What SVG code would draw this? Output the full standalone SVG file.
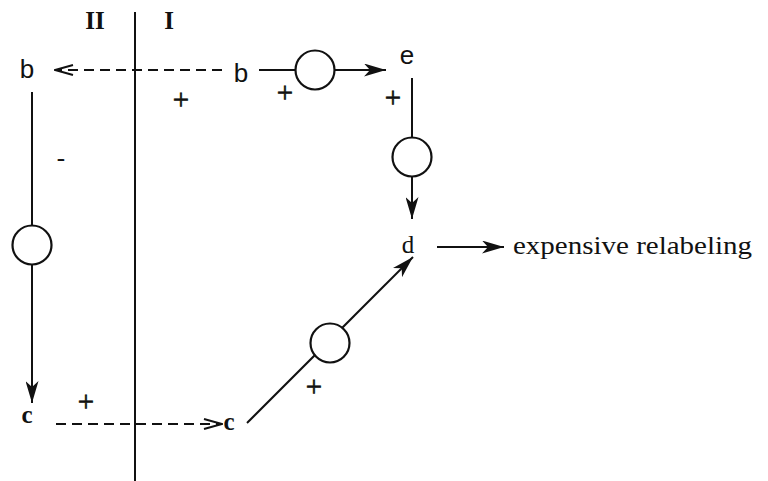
<svg xmlns="http://www.w3.org/2000/svg" width="768" height="481" viewBox="0 0 768 481">
<style>
.ln{stroke:#111;stroke-width:2;fill:none}
.dl{stroke:#111;stroke-width:2;fill:none;stroke-dasharray:10,6}
.cl{stroke:#111;stroke-width:2.2;fill:#fff}
.t{font-family:"Liberation Serif",serif;font-size:25px;fill:#111}
.s{font-family:"Liberation Sans",sans-serif;font-size:26px;fill:#111}
.p{font-family:"Liberation Serif",serif;font-size:29px;fill:#111;stroke:#111;stroke-width:0.6}
</style>
<defs>
<marker id="ah" viewBox="0 0 22 13" refX="22" refY="6.5" markerWidth="22" markerHeight="13" markerUnits="userSpaceOnUse" orient="auto">
<path d="M0,0 L22,6.5 L0,13 L6,6.5 Z" fill="#111"/>
</marker>
<marker id="oh" viewBox="0 0 20 12" refX="19" refY="6" markerWidth="20" markerHeight="12" markerUnits="userSpaceOnUse" orient="auto">
<path d="M1,1 L19,6 L1,11" fill="none" stroke="#111" stroke-width="2"/>
</marker>
</defs>
<rect width="768" height="481" fill="#fff"/>
<g id="divider">
<line class="ln" x1="135" y1="12" x2="135" y2="481"/>
<text class="t" x="95" y="29" font-size="26" font-weight="bold" text-anchor="middle">II</text>
<text class="t" x="169" y="29" font-size="26" font-weight="bold" text-anchor="middle">I</text>
</g>
<g id="connectors">
<line class="dl" x1="222" y1="70" x2="55" y2="70" marker-end="url(#oh)"/>
<line class="ln" x1="259" y1="70" x2="386" y2="70" marker-end="url(#ah)"/>
<line class="ln" x1="412" y1="78" x2="412" y2="219" marker-end="url(#ah)"/>
<line class="ln" x1="32" y1="92" x2="32" y2="403" marker-end="url(#ah)"/>
<line class="dl" x1="56" y1="424" x2="222" y2="424" marker-end="url(#oh)"/>
<line class="ln" x1="247" y1="423" x2="413" y2="257" marker-end="url(#ah)"/>
<line class="ln" x1="437" y1="247" x2="504" y2="247" marker-end="url(#ah)"/>
</g>
<g id="circle-top"><circle class="cl" cx="315" cy="70" r="19.5"/></g>
<g id="circle-right"><circle class="cl" cx="412" cy="157" r="19.5"/></g>
<g id="circle-left"><circle class="cl" cx="32" cy="245" r="19.5"/></g>
<g id="circle-diag"><circle class="cl" cx="330" cy="343" r="19.5"/></g>
<g id="node-b-II"><text class="s" x="27" y="78" text-anchor="middle">b</text></g>
<g id="node-b-I"><text class="s" x="241" y="82" text-anchor="middle">b</text></g>
<g id="node-e"><text class="s" x="407" y="64" text-anchor="middle">e</text></g>
<g id="node-d"><text class="t" x="408" y="253" font-size="26" text-anchor="middle">d</text></g>
<g id="node-c-II"><text class="t" x="27" y="423" font-size="28" text-anchor="middle" font-weight="bold">c</text></g>
<g id="node-c-I"><text class="t" x="229" y="430" font-size="28" text-anchor="middle" font-weight="bold">c</text></g>
<g id="node-expensive"><text class="t" x="513" y="254" font-size="28" textLength="239" lengthAdjust="spacingAndGlyphs">expensive relabeling</text></g>
<g id="signs">
<text class="p" x="181" y="109" text-anchor="middle">+</text>
<text class="p" x="285" y="102" text-anchor="middle">+</text>
<text class="p" x="393" y="107" text-anchor="middle">+</text>
<text class="t" x="61" y="166" font-size="24" text-anchor="middle">-</text>
<text class="p" x="86" y="411" text-anchor="middle">+</text>
<text class="p" x="314" y="396" text-anchor="middle">+</text>
</g>
</svg>
